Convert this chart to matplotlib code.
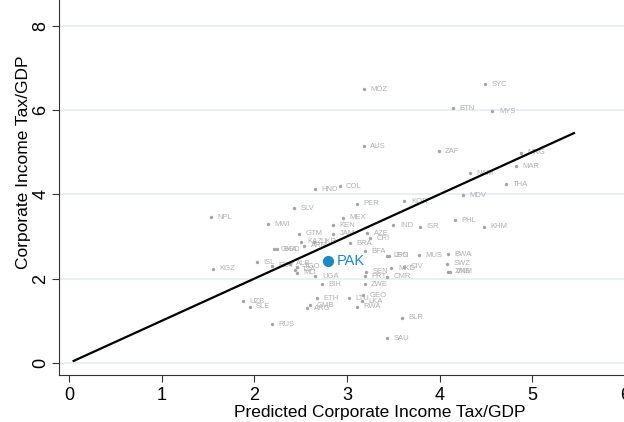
import matplotlib.pyplot as plt

plt.rcParams['font.family'] = ['Liberation Sans', 'DejaVu Sans']

# country codes, predicted and actual corporate income tax / GDP
codes = ['MOZ', 'SYC', 'BTN', 'MYS', 'AUS', 'ZAF', 'MNG', 'MAR', 'NAM', 'THA',
         'MDV', 'KOR', 'HND', 'COL', 'PER', 'SLV', 'NPL', 'MEX', 'MWI', 'KEN',
         'AZE', 'CRI', 'GTM', 'JAM', 'KAZ', 'ARM', 'UKR', 'BRA', 'BFA', 'GHA',
         'BGD', 'ISL', 'KGZ', 'EGY', 'ALB', 'TGO', 'TZA', 'MLI', 'UGA', 'BIH',
         'ETH', 'GMB', 'ARG', 'LTU', 'GEO', 'LKA', 'RWA', 'ZWE', 'PRT', 'SEN',
         'BLR', 'SAU', 'RUS', 'UZB', 'SLE', 'IND', 'ISR', 'PHL', 'KHM', 'LSO',
         'JPN', 'MUS', 'BWA', 'SWZ', 'ZMB', 'VNM', 'MKD', 'CIV', 'CMR']
predicted = [3.18, 4.49, 4.14, 4.57, 3.18, 3.99, 4.88, 4.82, 4.33, 4.72,
             4.25, 3.62, 2.65, 2.92, 3.11, 2.43, 1.53, 2.96, 2.15, 2.85,
             3.22, 3.25, 2.48, 2.85, 2.50, 2.54, 2.64, 3.03, 3.19, 2.21,
             2.24, 2.03, 1.55, 2.19, 2.38, 2.46, 2.44, 2.46, 2.66, 2.73,
             2.68, 2.60, 2.57, 3.02, 3.17, 3.16, 3.11, 3.19, 3.19, 3.21,
             3.59, 3.43, 2.19, 1.88, 1.95, 3.50, 3.79, 4.17, 4.48, 3.43,
             3.45, 3.78, 4.09, 4.08, 4.09, 4.11, 3.48, 3.62, 3.43]
actual = [6.49, 6.61, 6.04, 5.97, 5.14, 5.02, 4.98, 4.67, 4.50, 4.24,
          3.98, 3.84, 4.12, 4.19, 3.77, 3.67, 3.46, 3.44, 3.29, 3.27,
          3.08, 2.96, 3.06, 3.06, 2.87, 2.78, 2.87, 2.84, 2.65, 2.70,
          2.70, 2.39, 2.23, 2.30, 2.35, 2.28, 2.21, 2.14, 2.06, 1.87,
          1.54, 1.37, 1.30, 1.54, 1.61, 1.47, 1.33, 1.87, 2.06, 2.16,
          1.07, 0.59, 0.92, 1.47, 1.33, 3.27, 3.23, 3.39, 3.23, 2.54,
          2.54, 2.56, 2.58, 2.35, 2.16, 2.16, 2.25, 2.28, 2.04]

pak_pred = 2.80
pak_actual = 2.42

# 45-degree line over the range of predictions
fit_x = [0.05, 5.45]
fit_y = [0.05, 5.45]

fig = plt.figure(figsize=(6.24, 4.22), dpi=100)
ax = fig.add_axes([59 / 624, 47 / 422, 641 / 624, 425 / 422])

ax.set_xlim(-0.108, 6.81)
ax.set_ylim(-0.284, 9.79)

for yv in [0, 2, 4, 6, 8]:
    ax.axhline(yv, color='#e8f0f2', lw=1.4, zorder=0)

ax.scatter(predicted, actual, s=6, color='#a4a4a4', zorder=2, linewidths=0)
for c, x, y in zip(codes, predicted, actual):
    ax.text(x + 0.07, y, c, fontsize=5.5, color='#b0b0b0', va='center', ha='left', zorder=2)

ax.plot(fit_x, fit_y, color='black', lw=1.6, zorder=3)

ax.scatter([pak_pred], [pak_actual], s=65, color='#1a8ac6', zorder=4, linewidths=0)
ax.text(pak_pred + 0.09, pak_actual, 'PAK', fontsize=10.5, color='#1a8ac6', va='center', ha='left', zorder=4)

ax.spines['top'].set_visible(False)
ax.spines['right'].set_visible(False)
ax.spines['left'].set_color('#333333')
ax.spines['bottom'].set_color('#333333')

ax.set_xticks([0, 1, 2, 3, 4, 5, 6])
ax.set_yticks([0, 2, 4, 6, 8])
ax.tick_params(axis='both', labelsize=13, length=5, color='#333333')
ax.tick_params(axis='y', pad=2)
plt.setp(ax.get_yticklabels(), rotation=90, va='center')

ax.set_xlabel('Predicted Corporate Income Tax/GDP', fontsize=12.5, labelpad=1)
ax.set_ylabel('Corporate Income Tax/GDP', fontsize=12.5, labelpad=1)

fig.savefig('out.png', dpi=100)
